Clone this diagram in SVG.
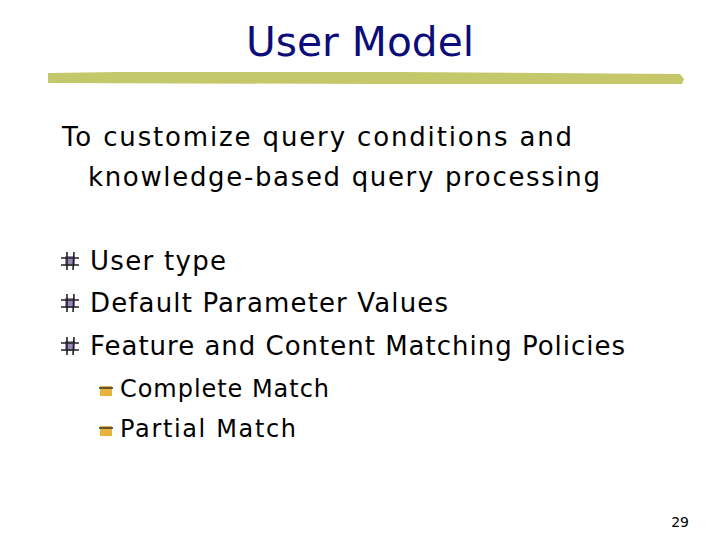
<svg xmlns="http://www.w3.org/2000/svg" width="720" height="540" viewBox="0 0 720 540">
<style>
.t{font-family:"DejaVu Sans","Liberation Sans",sans-serif;fill:#000}
.b{font-size:26px}
.s{font-size:24px}
.h{stroke:#222;stroke-width:1.6}
</style>
<defs>
<g id="hash"><rect x="-5" y="-5" width="10" height="10" fill="#9b87b8"/><path class="h" d="M-3,-9L-3,9M4,-9L3,9M-9,-3H9M-9,4H9"/></g>
<g id="sq"><rect x="-6" y="-6" width="12" height="10" fill="#e6b43c"/><path d="M-7,-4H7" stroke="#333" stroke-width="1.5"/></g>
</defs>
<rect width="720" height="540" fill="#fff"/>
<text x="360" y="56" text-anchor="middle" font-family="DejaVu Sans,sans-serif" font-size="40" fill="#0c0c7a" textLength="228" lengthAdjust="spacingAndGlyphs">User Model</text>
<path d="M48,73 L120,72 L400,72 L680,74 L684,79 L682,84 L380,84 L48,83 Z" fill="#c4c86a"/>
<text class="t b" x="62" y="146" textLength="510">To customize query conditions and</text>
<text class="t b" x="88" y="186" textLength="512">knowledge-based query processing</text>
<g id="b1"><use href="#hash" x="70" y="261"/><text class="t b" x="90" y="270" textLength="136">User type</text></g>
<g id="b2"><use href="#hash" x="70" y="303"/><text class="t b" x="90" y="312" textLength="358">Default Parameter Values</text></g>
<g id="b3"><use href="#hash" x="70" y="346"/><text class="t b" x="90" y="355" textLength="535">Feature and Content Matching Policies</text></g>
<g id="b4"><use href="#sq" x="106" y="392"/><text class="t s" x="120" y="397" textLength="209">Complete Match</text></g>
<g id="b5"><use href="#sq" x="106" y="432"/><text class="t s" x="120" y="437" textLength="176">Partial Match</text></g>
<text class="t" x="689" y="527" text-anchor="end" font-size="14">29</text>
</svg>
